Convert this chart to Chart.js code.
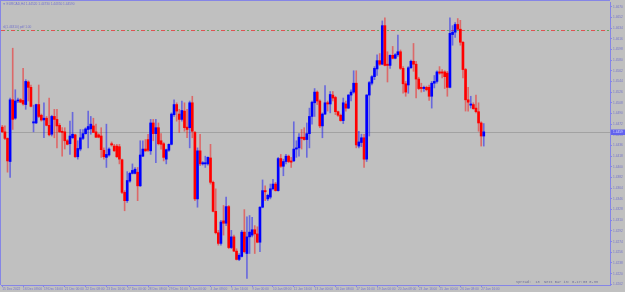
<!DOCTYPE html>
<html><head><meta charset="utf-8">
<script src="https://cdn.jsdelivr.net/npm/chart.js@4.4.0/dist/chart.umd.min.js"></script>
<style>html,body{margin:0;padding:0;background:#c0c0c0;overflow:hidden}canvas{display:block}</style>
</head><body><canvas id="c" width="625" height="292"></canvas>
<script>
const symbolText = 'EURCAD,H4';
const slotCount = 234;
const xTickBars = [0,8,16,24,32,40,48,56,64,72,80,88,96,104,112,120,128,136,144,152,160,168,176,184];
const xTickTexts = ['15 Dec 2022','16 Dec 08:00','19 Dec 16:00','21 Dec 00:00','22 Dec 08:00','23 Dec 16:00','27 Dec 00:00','28 Dec 08:00','29 Dec 16:00','3 Jan 00:00','4 Jan 08:00','5 Jan 16:00','9 Jan 00:00','10 Jan 08:00','11 Jan 16:00','13 Jan 00:00','16 Jan 08:00','17 Jan 16:00','19 Jan 00:00','20 Jan 08:00','23 Jan 16:00','25 Jan 00:00','26 Jan 08:00','27 Jan 16:00'];
const yTickLabels = ['1.4670','1.4652','1.4634','1.4616','1.4598','1.4580','1.4562','1.4544','1.4526','1.4508','1.4490','1.4472','1.4454','1.4436','1.4418','1.4400','1.4382','1.4364','1.4346','1.4328','1.4310','1.4292','1.4274','1.4256','1.4238','1.4220','1.4202'];
const levelPrice = 1.4631;
const levelText = 'sl(1.46310) pdf 1.00';
const spreadText = 'Spread:  13  Next Bar in: 0-17:03 0-33';

const open = [
1.4467,1.4459,1.4448,1.4409,1.4513,1.4482,1.4511,1.4513,1.4512,1.4505,
1.4543,1.4534,1.4474,1.4474,1.4505,1.4487,1.4479,1.4482,1.4470,1.4455,
1.4485,1.4480,1.4470,1.4460,1.4459,1.4444,1.4439,1.4449,1.4454,1.4417,
1.4430,1.4448,1.4456,1.4463,1.4464,1.4469,1.4459,1.4454,1.4452,1.4428,
1.4416,1.4420,1.4439,1.4435,1.4435,1.4434,1.4412,1.4357,1.4343,1.4376,
1.4389,1.4389,1.4391,1.4368,1.4418,1.4430,1.4446,1.4427,1.4474,1.4456,
1.4466,1.4444,1.4439,1.4413,1.4428,1.4438,1.4488,1.4505,1.4489,1.4480,
1.4494,1.4467,1.4466,1.4508,1.4458,1.4346,1.4427,1.4405,1.4405,1.4405,
1.4415,1.4374,1.4325,1.4289,1.4271,1.4309,1.4305,1.4333,1.4264,1.4282,
1.4258,1.4244,1.4249,1.4290,1.4254,1.4282,1.4285,1.4294,1.4287,1.4273,
1.4332,1.4360,1.4346,1.4349,1.4363,1.4371,1.4360,1.4414,1.4401,1.4409,
1.4418,1.4410,1.4410,1.4430,1.4432,1.4450,1.4450,1.4446,1.4456,1.4485,
1.4508,1.4526,1.4511,1.4469,1.4489,1.4508,1.4506,1.4521,1.4517,1.4493,
1.4487,1.4478,1.4506,1.4499,1.4521,1.4526,1.4541,1.4435,1.4441,1.4449,
1.4413,1.4521,1.4541,1.4552,1.4565,1.4579,1.4573,1.4638,1.4573,1.4571,
1.4588,1.4583,1.4589,1.4594,1.4566,1.4540,1.4538,1.4567,1.4578,1.4573,
1.4548,1.4534,1.4532,1.4534,1.4534,1.4519,1.4541,1.4544,1.4560,1.4560,
1.4560,1.4558,1.4534,1.4623,1.4627,1.4640,1.4632,1.4610,1.4564,1.4513,
1.4504,1.4505,1.4499,1.4493,1.4474,1.4452];
const high = [
1.4470,1.4469,1.4449,1.4516,1.4600,1.4530,1.4516,1.4515,1.4566,1.4547,
1.4545,1.4538,1.4504,1.4506,1.4538,1.4489,1.4508,1.4485,1.4516,1.4487,
1.4497,1.4497,1.4473,1.4466,1.4466,1.4446,1.4477,1.4492,1.4455,1.4444,
1.4463,1.4463,1.4466,1.4494,1.4485,1.4482,1.4472,1.4456,1.4466,1.4432,
1.4472,1.4432,1.4442,1.4438,1.4438,1.4438,1.4413,1.4360,1.4392,1.4391,
1.4405,1.4399,1.4399,1.4444,1.4444,1.4446,1.4455,1.4480,1.4480,1.4480,
1.4474,1.4456,1.4441,1.4430,1.4439,1.4491,1.4513,1.4508,1.4497,1.4511,
1.4508,1.4497,1.4511,1.4519,1.4460,1.4432,1.4455,1.4409,1.4418,1.4417,
1.4438,1.4376,1.4363,1.4293,1.4310,1.4335,1.4349,1.4335,1.4293,1.4285,
1.4262,1.4254,1.4293,1.4328,1.4316,1.4318,1.4315,1.4301,1.4299,1.4333,
1.4378,1.4368,1.4354,1.4371,1.4379,1.4374,1.4416,1.4421,1.4413,1.4421,
1.4420,1.4416,1.4476,1.4444,1.4456,1.4463,1.4466,1.4474,1.4499,1.4511,
1.4532,1.4528,1.4513,1.4491,1.4537,1.4511,1.4527,1.4527,1.4519,1.4494,
1.4489,1.4516,1.4511,1.4522,1.4530,1.4562,1.4562,1.4460,1.4455,1.4455,
1.4522,1.4544,1.4554,1.4569,1.4589,1.4591,1.4646,1.4651,1.4594,1.4589,
1.4603,1.4591,1.4622,1.4597,1.4569,1.4544,1.4569,1.4580,1.4608,1.4578,
1.4551,1.4541,1.4536,1.4536,1.4538,1.4544,1.4554,1.4562,1.4569,1.4564,
1.4562,1.4561,1.4651,1.4638,1.4643,1.4650,1.4647,1.4611,1.4566,1.4534,
1.4519,1.4508,1.4521,1.4508,1.4476,1.4473];
const low = [
1.4458,1.4446,1.4391,1.4382,1.4463,1.4480,1.4508,1.4508,1.4504,1.4497,
1.4511,1.4501,1.4459,1.4473,1.4483,1.4477,1.4449,1.4469,1.4452,1.4452,
1.4449,1.4432,1.4458,1.4418,1.4430,1.4437,1.4421,1.4448,1.4416,1.4413,
1.4427,1.4446,1.4455,1.4432,1.4455,1.4458,1.4449,1.4449,1.4416,1.4413,
1.4399,1.4418,1.4435,1.4426,1.4416,1.4405,1.4355,1.4326,1.4340,1.4374,
1.4388,1.4388,1.4343,1.4367,1.4417,1.4426,1.4426,1.4421,1.4444,1.4407,
1.4437,1.4430,1.4410,1.4405,1.4426,1.4437,1.4485,1.4477,1.4458,1.4477,
1.4460,1.4449,1.4432,1.4449,1.4343,1.4332,1.4402,1.4403,1.4399,1.4403,
1.4371,1.4324,1.4287,1.4268,1.4268,1.4285,1.4301,1.4262,1.4262,1.4257,
1.4243,1.4242,1.4248,1.4255,1.4212,1.4254,1.4282,1.4254,1.4272,1.4257,
1.4331,1.4343,1.4343,1.4346,1.4361,1.4359,1.4359,1.4399,1.4385,1.4405,
1.4407,1.4399,1.4409,1.4416,1.4418,1.4430,1.4445,1.4416,1.4432,1.4472,
1.4485,1.4505,1.4466,1.4449,1.4488,1.4494,1.4491,1.4511,1.4488,1.4485,
1.4477,1.4473,1.4494,1.4498,1.4511,1.4524,1.4432,1.4432,1.4434,1.4399,
1.4409,1.4452,1.4538,1.4547,1.4554,1.4571,1.4572,1.4570,1.4543,1.4566,
1.4582,1.4582,1.4586,1.4564,1.4524,1.4519,1.4524,1.4566,1.4561,1.4516,
1.4530,1.4526,1.4527,1.4528,1.4512,1.4499,1.4533,1.4541,1.4556,1.4550,
1.4532,1.4519,1.4533,1.4605,1.4618,1.4631,1.4605,1.4550,1.4494,1.4494,
1.4499,1.4497,1.4491,1.4460,1.4435,1.4435];
const close = [
1.4459,1.4448,1.4410,1.4513,1.4480,1.4511,1.4512,1.4509,1.4506,1.4544,
1.4534,1.4502,1.4476,1.4505,1.4485,1.4479,1.4482,1.4470,1.4454,1.4485,
1.4480,1.4469,1.4459,1.4458,1.4444,1.4438,1.4452,1.4455,1.4417,1.4431,
1.4449,1.4456,1.4464,1.4468,1.4472,1.4458,1.4450,1.4450,1.4429,1.4417,
1.4421,1.4430,1.4437,1.4427,1.4417,1.4413,1.4357,1.4343,1.4377,1.4389,
1.4394,1.4396,1.4368,1.4420,1.4430,1.4427,1.4428,1.4474,1.4456,1.4466,
1.4439,1.4438,1.4416,1.4429,1.4438,1.4489,1.4505,1.4494,1.4480,1.4495,
1.4466,1.4463,1.4508,1.4460,1.4346,1.4427,1.4405,1.4407,1.4407,1.4416,
1.4374,1.4325,1.4289,1.4271,1.4307,1.4305,1.4333,1.4264,1.4282,1.4258,
1.4244,1.4251,1.4290,1.4257,1.4282,1.4290,1.4294,1.4287,1.4273,1.4332,
1.4360,1.4358,1.4352,1.4363,1.4371,1.4360,1.4414,1.4401,1.4409,1.4418,
1.4409,1.4408,1.4430,1.4432,1.4450,1.4448,1.4446,1.4456,1.4485,1.4509,
1.4526,1.4511,1.4469,1.4489,1.4508,1.4506,1.4522,1.4516,1.4493,1.4487,
1.4478,1.4508,1.4499,1.4521,1.4526,1.4541,1.4437,1.4442,1.4449,1.4413,
1.4521,1.4542,1.4552,1.4566,1.4579,1.4573,1.4638,1.4571,1.4571,1.4588,
1.4583,1.4589,1.4594,1.4566,1.4540,1.4526,1.4567,1.4578,1.4573,1.4548,
1.4532,1.4532,1.4534,1.4530,1.4519,1.4541,1.4544,1.4560,1.4558,1.4558,
1.4552,1.4534,1.4625,1.4627,1.4640,1.4632,1.4610,1.4564,1.4513,1.4509,
1.4506,1.4498,1.4493,1.4474,1.4452,1.4459];

const UP = '#0000ff', DOWN = '#ff0000';
const UPW = 'rgba(0,0,255,0.45)', DOWNW = 'rgba(255,0,0,0.45)';
const AXIS = '#8585e6', TXT = '#7474cc';

const categories = new Array(slotCount).fill('');
xTickBars.forEach((b, k) => { categories[b] = xTickTexts[k]; });
const isUp = open.map((o, i) => close[i] >= o);
const bodies = open.map((o, i) => [o, close[i]]);
const wicks = low.map((l, i) => [l, high[i]]);
const last = close.length - 1;

const deco = {
  id: 'deco',
  beforeDraw(chart) {
    const c = chart.ctx; c.save(); c.fillStyle = '#c0c0c0'; c.fillRect(0, 0, chart.width, chart.height); c.restore();
  },
  beforeDatasetsDraw(chart) {
    const c = chart.ctx, a = chart.chartArea, y = chart.scales.y;
    c.save();
    // bid line
    const py = Math.round(y.getPixelForValue(close[last])) + 0.5;
    c.strokeStyle = '#a2a2a2'; c.lineWidth = 1;
    c.beginPath(); c.moveTo(a.left, py); c.lineTo(a.right, py); c.stroke();
    // level line dash-dot red/green
    const ly = Math.round(y.getPixelForValue(levelPrice)) + 0.5;
    c.lineWidth = 1;
    c.strokeStyle = '#e05050'; c.setLineDash([4, 6]); c.lineDashOffset = 0;
    c.beginPath(); c.moveTo(a.left, ly); c.lineTo(a.right, ly); c.stroke();
    c.strokeStyle = '#60a860'; c.setLineDash([2, 8]); c.lineDashOffset = -6;
    c.beginPath(); c.moveTo(a.left, ly); c.lineTo(a.right, ly); c.stroke();
    c.setLineDash([]);
    c.restore();
  },
  afterDraw(chart) {
    const c = chart.ctx, a = chart.chartArea, y = chart.scales.y;
    c.save();
    // frame left/top
    c.strokeStyle = AXIS; c.lineWidth = 1;
    c.beginPath(); c.moveTo(0.5, 0); c.lineTo(0.5, a.bottom); c.moveTo(0, 0.5); c.lineTo(a.right, 0.5); c.stroke();
    // header
    c.fillStyle = TXT; c.textBaseline = 'middle'; c.textAlign = 'left';
    c.font = '3.2px "Liberation Sans"';
    const f5 = v => v.toFixed(5);
    c.fillText('\u25BC ' + symbolText + ' ' + f5(open[last]) + ' ' + f5(high[last]) + ' ' + f5(low[last]) + ' ' + f5(close[last]), 2.5, 4.5);
    // level label
    const ly = y.getPixelForValue(levelPrice);
    c.fillText(levelText, 3, ly - 3);
    // spread text
    c.fillStyle = '#6c6c98';
    c.font = '3.6px "Liberation Mono"';
    c.textAlign = 'right';
    c.fillText(spreadText, a.right - 12, a.bottom - 3);
    // price box
    const py = Math.round(y.getPixelForValue(close[last]));
    c.fillStyle = '#6262ee';
    c.fillRect(a.right + 1, py - 2.5, chart.width - a.right - 1, 5.5);
    c.fillStyle = '#dcdcff'; c.textAlign = 'left';
    c.font = '3.2px "Liberation Sans"';
    c.fillText(close[last].toFixed(4), a.right + 3, py + 0.3);
    c.restore();
  }
};

new Chart(document.getElementById('c'), {
  type: 'bar',
  data: {
    labels: categories,
    datasets: [
      { label: 'body', data: bodies, order: 0, grouped: false, barThickness: 2, minBarLength: 1,
        backgroundColor: isUp.map(u => u ? UP : DOWN), borderWidth: 0 },
      { label: 'wick', data: wicks, order: 1, grouped: false, barThickness: 1,
        backgroundColor: isUp.map(u => u ? UPW : DOWNW), borderWidth: 0 }
    ]
  },
  options: {
    responsive: false, animation: false, devicePixelRatio: 1,
    layout: { padding: { left: 1, top: 1, right: 0, bottom: 0 } },
    plugins: { legend: { display: false }, tooltip: { enabled: false } },
    scales: {
      x: {
        offset: true,
        afterBuildTicks(s) { s.ticks = s.ticks.filter(t => categories[t.value] !== ''); },
        afterFit(s) { s.height = 7; },
        grid: { offset: false, drawOnChartArea: false, drawTicks: true, tickLength: 2, tickColor: AXIS },
        border: { display: true, color: AXIS, width: 1 },
        ticks: { autoSkip: false, maxRotation: 0, minRotation: 0, align: 'start', padding: 0,
          color: TXT, font: { family: 'Liberation Sans', size: 3.2 } }
      },
      y: {
        position: 'right',
        min: 1.42009, max: 1.46763,
        afterBuildTicks(s) { s.ticks = yTickLabels.map(v => ({ value: parseFloat(v) })); },
        afterFit(s) { s.width = 15; },
        grid: { drawOnChartArea: false, drawTicks: true, tickLength: 2, tickColor: AXIS },
        border: { display: true, color: AXIS, width: 1 },
        ticks: { padding: 1, color: TXT, font: { family: 'Liberation Sans', size: 3.2 },
          callback: v => v.toFixed(4) }
      }
    }
  },
  plugins: [deco]
});
</script>
</body></html>
